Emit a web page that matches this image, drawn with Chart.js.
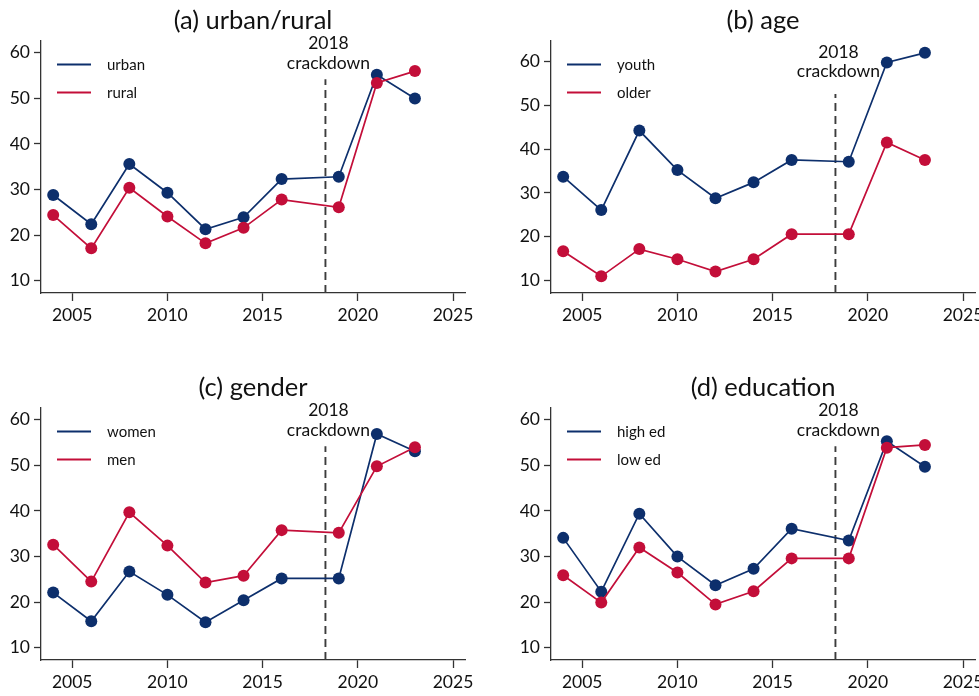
<!DOCTYPE html>
<html>
<head>
<meta charset="utf-8">
<script src="https://cdn.jsdelivr.net/npm/chart.js@4/dist/chart.umd.min.js"></script>
<style>
  html, body { margin: 0; padding: 0; background: #fff; overflow: hidden; width: 979px; height: 696px; }
  .panel { position: absolute; width: 510px; height: 367px; }
  .panel canvas { display: block; }
</style>
</head>
<body>
<div class="panel" style="left:0;top:0"><canvas id="pa" width="510" height="367"></canvas></div>
<div class="panel" style="left:510px;top:0"><canvas id="pb" width="510" height="367"></canvas></div>
<div class="panel" style="left:0;top:367px"><canvas id="pc" width="510" height="367"></canvas></div>
<div class="panel" style="left:510px;top:367px"><canvas id="pd" width="510" height="367"></canvas></div>
<script>
// Survey years
const years = [2004, 2006, 2008, 2010, 2012, 2014, 2016, 2019, 2021, 2023];

// Share (%) by group
const urban  = [28.8, 22.4, 35.6, 29.3, 21.3, 23.9, 32.3, 32.8, 55.2, 50.0];
const rural  = [24.4, 17.1, 30.4, 24.1, 18.2, 21.6, 27.8, 26.1, 53.4, 56.0];
const youth  = [33.7, 26.1, 44.2, 35.2, 28.8, 32.4, 37.5, 37.1, 59.7, 61.9];
const older  = [16.7, 11.0, 17.2, 14.9, 12.1, 14.9, 20.6, 20.6, 41.5, 37.5];
const women  = [22.1, 15.8, 26.7, 21.6, 15.6, 20.4, 25.2, 25.2, 56.9, 53.1];
const men    = [32.6, 24.5, 39.7, 32.4, 24.3, 25.8, 35.8, 35.2, 49.8, 54.0];
const highEd = [34.1, 22.3, 39.4, 30.0, 23.7, 27.3, 36.1, 33.5, 55.3, 49.7];
const lowEd  = [25.9, 19.9, 32.0, 26.5, 19.5, 22.4, 29.6, 29.6, 53.9, 54.5];

// Axis ticks
const yTicks = [10, 20, 30, 40, 50, 60];
const xTicks = [2005, 2010, 2015, 2020, 2025];

// Crackdown marker
const crackdownYear = 2018.3;
const crackdownLabel = ['2018', 'crackdown'];

const NAVY = '#0d2f6c';
const RED = '#c30e39';
const FONT = 'Lato, "Open Sans", sans-serif';

const overlay = {
  id: 'overlay',
  afterDatasetsDraw(chart, args, opts) {
    const { ctx, chartArea, scales } = chart;
    ctx.save();
    // panel title
    ctx.fillStyle = '#111';
    ctx.font = '25.5px ' + FONT;
    ctx.textAlign = 'center';
    ctx.textBaseline = 'middle';
    ctx.fillText(opts.title, (chartArea.left + chartArea.right) / 2, 21);
    // crackdown label
    const lx = scales.x.getPixelForValue(crackdownYear) + 3;
    ctx.font = '17.5px ' + FONT;
    ctx.fillText(crackdownLabel[0], lx, scales.y.getPixelForValue(62.0));
    ctx.fillText(crackdownLabel[1], lx, scales.y.getPixelForValue(57.6));
    // legend
    ctx.lineWidth = 2;
    ctx.font = '15px ' + FONT;
    ctx.textAlign = 'left';
    opts.legend.forEach((item, i) => {
      const y = chartArea.top + 23.5 + i * 28;
      ctx.strokeStyle = item.color;
      ctx.beginPath();
      ctx.moveTo(chartArea.left + 16, y);
      ctx.lineTo(chartArea.left + 50, y);
      ctx.stroke();
      ctx.fillStyle = '#111';
      ctx.fillText(item.label, chartArea.left + 66, y + 1);
    });
    ctx.restore();
  }
};

function makePanel(id, title, labels, blue, red, yMin, yMax, dashTop) {
  const pts = arr => years.map((x, i) => ({ x, y: arr[i] }));
  const series = (data, color, order) => ({
    data: pts(data),
    borderColor: color,
    backgroundColor: color,
    pointBackgroundColor: color,
    pointBorderWidth: 0,
    pointRadius: 6,
    borderWidth: 1.7,
    tension: 0,
    order
  });
  new Chart(document.getElementById(id), {
    type: 'line',
    data: {
      datasets: [
        series(red, RED, 0),
        series(blue, NAVY, 1),
        {
          data: [{ x: crackdownYear, y: yMin }, { x: crackdownYear, y: dashTop }],
          borderColor: '#3c3c3c',
          borderWidth: 1.9,
          borderDash: [8, 5],
          pointRadius: 0,
          order: 2
        }
      ]
    },
    options: {
      responsive: false,
      animation: false,
      events: [],
      layout: { padding: { top: 41, left: 0, right: 45, bottom: 0 } },
      plugins: {
        legend: { display: false },
        tooltip: { enabled: false },
        overlay: {
          title,
          legend: [{ label: labels[0], color: NAVY }, { label: labels[1], color: RED }]
        }
      },
      scales: {
        x: {
          type: 'linear',
          min: 2003.36,
          max: 2025.63,
          afterBuildTicks: s => { s.ticks = xTicks.map(v => ({ value: v })); },
          afterFit: s => { s.height = 74; },
          grid: { drawOnChartArea: false, drawTicks: true, tickLength: 8, tickColor: '#333', tickWidth: 1.3 },
          border: { display: true, color: '#333', width: 1.3 },
          ticks: { color: '#111', padding: 4, maxRotation: 0, font: { family: FONT, size: 17.5 }, callback: v => String(v) }
        },
        y: {
          type: 'linear',
          min: yMin,
          max: yMax,
          afterBuildTicks: s => { s.ticks = yTicks.map(v => ({ value: v })); },
          afterFit: s => { s.width = 41; },
          grid: { drawOnChartArea: false, drawTicks: true, tickLength: 7, tickColor: '#333', tickWidth: 1.3 },
          border: { display: true, color: '#333', width: 1.3 },
          ticks: { color: '#111', padding: 4, font: { family: FONT, size: 17.5 }, callback: v => String(v) }
        }
      }
    },
    plugins: [overlay]
  });
}

makePanel('pa', '(a) urban/rural', ['urban', 'rural'], urban, rural, 7.3, 62.6, 54.2);
makePanel('pb', '(b) age', ['youth', 'older'], youth, older, 7.2, 64.6, 52.5);
makePanel('pc', '(c) gender', ['women', 'men'], women, men, 7.3, 62.6, 54.2);
makePanel('pd', '(d) education', ['high ed', 'low ed'], highEd, lowEd, 7.3, 62.6, 54.2);
</script>
</body>
</html>
